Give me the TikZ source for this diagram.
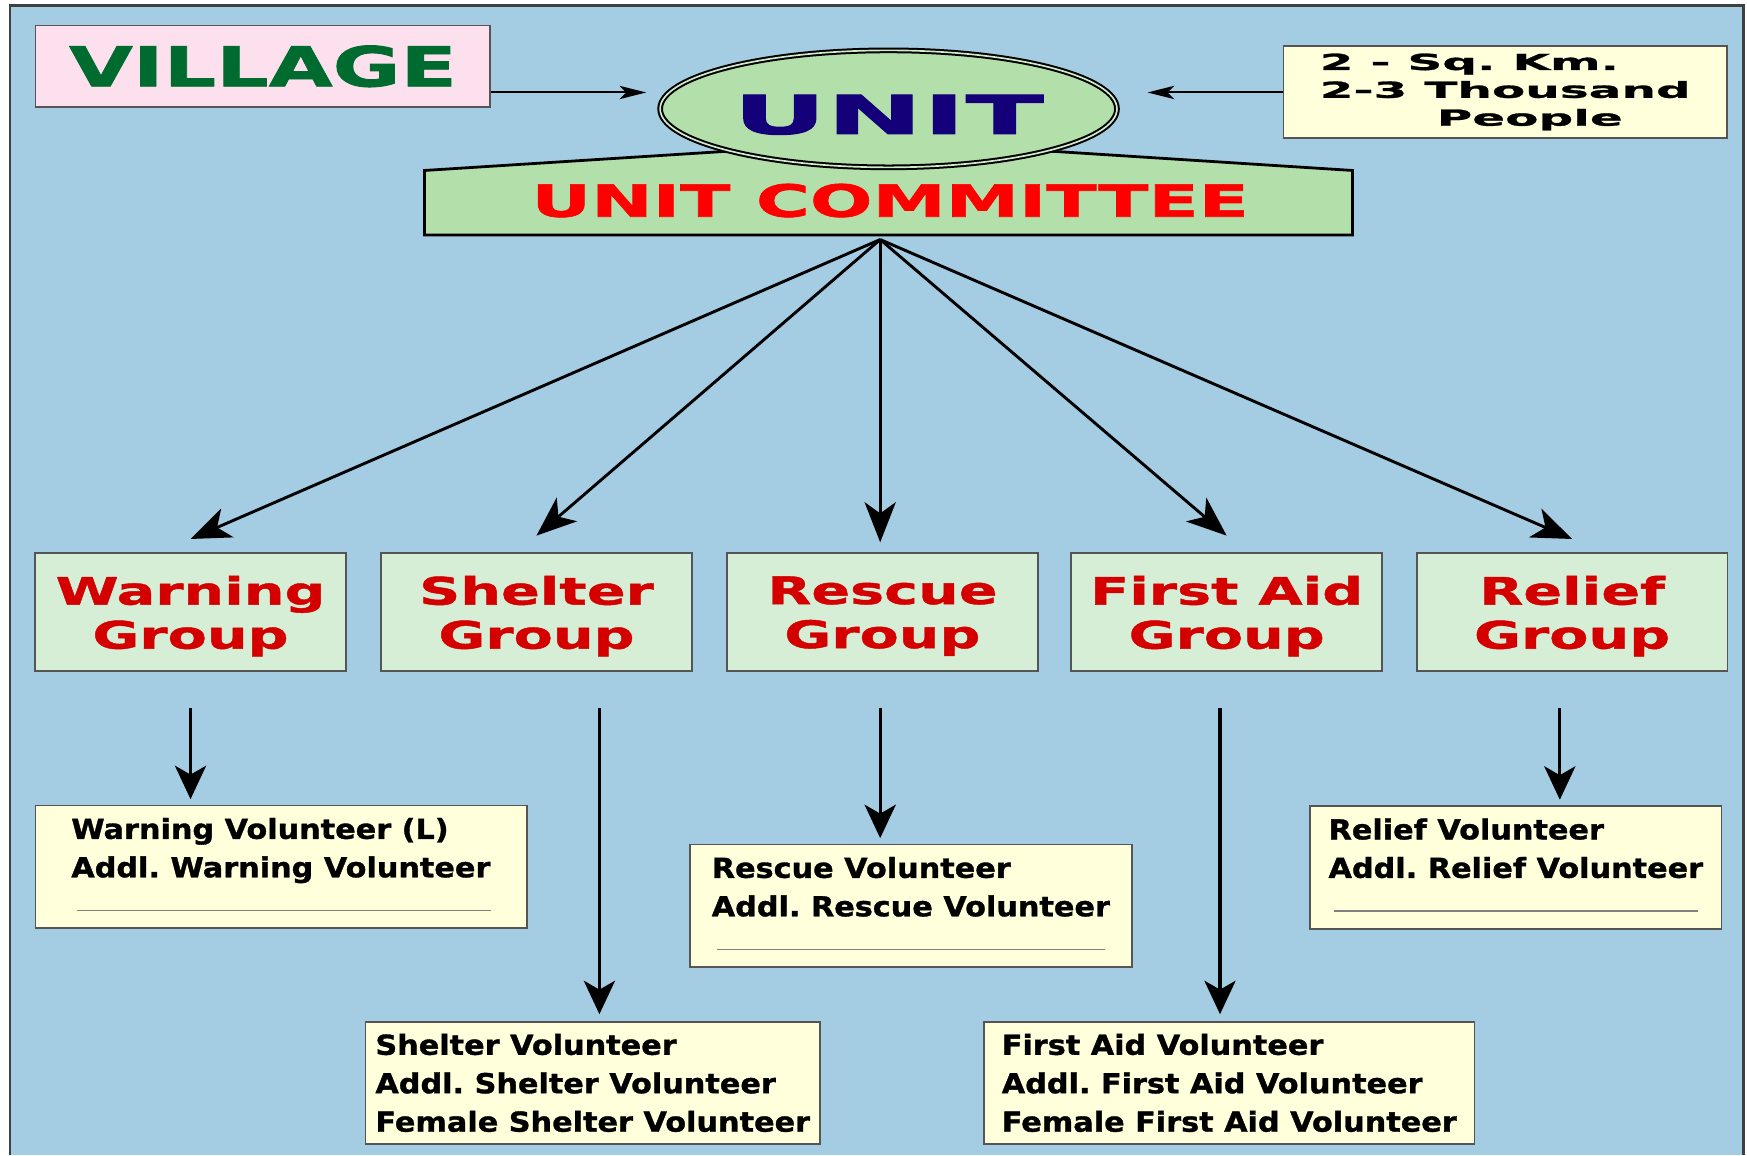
\documentclass[tikz,border=0pt]{standalone}
\usepackage{fontspec}
\usetikzlibrary{arrows.meta,shapes.geometric}
\newfontfamily\villagefont{DejaVu Sans}[FakeStretch=1.5,FakeBold=1.5]
\newfontfamily\unitfont{DejaVu Sans}[FakeStretch=2.15,FakeBold=2]
\newfontfamily\commfont{DejaVu Sans}[FakeStretch=1.66,FakeBold=1.5]
\newfontfamily\groupfont{DejaVu Sans}[FakeStretch=1.51,FakeBold=1.2]
\newfontfamily\notefont{DejaVu Sans}[FakeStretch=2.2,FakeBold=1.2]
\newfontfamily\volfont{DejaVu Sans}[FakeStretch=1.1,FakeBold=1.2]
\definecolor{bgblue}{RGB}{164,204,226}
\definecolor{villpink}{RGB}{252,224,238}
\definecolor{villgreen}{RGB}{0,107,46}
\definecolor{unitgreen}{RGB}{179,224,170}
\definecolor{unitblue}{RGB}{20,0,120}
\definecolor{commred}{RGB}{255,0,0}
\definecolor{groupfill}{RGB}{214,238,214}
\definecolor{groupred}{RGB}{212,0,0}
\definecolor{volfill}{RGB}{255,255,220}
\definecolor{boxline}{RGB}{85,85,85}
\newcommand{\blankline}[1]{\hspace*{5pt}\textcolor{gray}{\rule[4pt]{#1}{1.2pt}}}
\frenchspacing

\begin{document}
\begin{tikzpicture}[x=1pt,y=-1pt,
groupbox/.style={rectangle, draw=boxline, line width=1.5pt, fill=groupfill, minimum width=279pt, minimum height=106pt, align=center, text depth=0pt, text=groupred, font=\groupfont\bfseries\fontsize{34}{39.5}\selectfont},
volbox/.style={rectangle, draw=boxline, line width=1.5pt, fill=volfill, minimum height=110pt, align=left, font=\volfont\bfseries\fontsize{24.7}{34.5}\selectfont},
fanarrow/.style={line width=2.6pt, -{Stealth[length=36pt,width=28pt,inset=10pt]}},
downarrow/.style={line width=2.8pt, -{Stealth[length=30pt,width=28pt,inset=8pt]}},
toparrow/.style={line width=1.8pt, -{Stealth[length=24pt,width=12pt,inset=6pt]}}
]
    \useasboundingbox (0,0) rectangle (1568,1037);
    \fill[bgblue] (9,5) rectangle (1565,1037);
    \draw[line width=2.5pt, black!75] (9,1037) -- (9,5) -- (1565,5) -- (1565,1037);

    \node[rectangle, draw=boxline, line width=1.5pt, fill=villpink, minimum width=408pt, minimum height=73pt, text=villgreen, font=\villagefont\bfseries\fontsize{49.4}{50}\selectfont] (village) at (236,59.5){VILLAGE};

    \node[rectangle, draw=boxline, line width=1.5pt, fill=volfill, minimum width=398pt, minimum height=83pt, align=left, font=\notefont\bfseries\fontsize{19.8}{25}\selectfont] (note) at (1351,82.5){2 - Sq. Km.\\2-3 Thousand\\\hspace*{105pt}People};

    \filldraw[fill=unitgreen, draw=black, line width=2.5pt] (381,211) -- (381,153) -- (649,136) -- (948,136) -- (1214,153) -- (1214,211) -- cycle;
    \node[text=commred, inner sep=0pt, font=\commfont\bfseries\fontsize{39.8}{40}\selectfont] (committee) at (799,180){UNIT COMMITTEE};

    \node[ellipse, draw=black, double=unitgreen!60!white, double distance=1.5pt, line width=1.8pt, fill=unitgreen, minimum width=410pt, minimum height=105pt, inner sep=0pt, text height=45pt, text depth=0pt, text=unitblue, font=\unitfont\bfseries\fontsize{48}{48}\selectfont] (unit) at (797.5,97.7){UNIT};

    \coordinate (villtip) at (580,83);
    \coordinate (notetip) at (1030,83);
    \draw[toparrow] (village.east |- villtip) -- (villtip);
    \draw[toparrow] (note.west |- notetip) -- (notetip);

    \node[groupbox] (warning) at (171,549.5){Warning\\Group};
    \node[groupbox] (shelter) at (481.5,549.5){Shelter\\Group};
    \node[groupbox] (rescue) at (792,549.5){Rescue\\Group};
    \node[groupbox] (firstaid) at (1101,549.5){First Aid\\Group};
    \node[groupbox] (relief) at (1411,549.5){Relief\\Group};

    \coordinate (fan) at (790,215);
    \draw[fanarrow] (fan) -- ([yshift=12pt]warning.north);
    \draw[fanarrow] (fan) -- ([yshift=15pt]shelter.north);
    \draw[fanarrow] (fan) -- ([yshift=9pt]rescue.north -| fan);
    \draw[fanarrow] (fan) -- ([yshift=15pt]firstaid.north);
    \draw[fanarrow] (fan) -- ([yshift=12pt]relief.north);

    \node[volbox, minimum width=441pt] (warnvol) at (252.5,778){Warning Volunteer (L)\\Addl. Warning Volunteer\\\blankline{372pt}};
    \node[volbox, minimum width=397pt] (rescvol) at (817.5,813){Rescue Volunteer\\Addl. Rescue Volunteer\\\blankline{348pt}};
    \node[volbox, minimum width=369pt] (relvol) at (1360.5,778.5){Relief Volunteer\\Addl. Relief Volunteer\\\blankline{327pt}};
    \node[volbox, minimum width=408pt] (shelvol) at (532,972){Shelter Volunteer\\Addl. Shelter Volunteer\\Female Shelter Volunteer};
    \node[volbox, minimum width=440pt] (firstvol) at (1103.3,972){First Aid Volunteer\\Addl. First Aid Volunteer\\Female First Aid Volunteer};

    \draw[downarrow] ([yshift=-32pt]warning.south) -- ([yshift=5pt]warning.south |- warnvol.north);
    \draw[downarrow] ([xshift=6pt,yshift=-32pt]shelter.south -| shelvol.north) -- ([xshift=6pt,yshift=6pt]shelvol.north);
    \draw[downarrow] ([yshift=-32pt]rescue.south -| fan) -- ([yshift=5pt]fan |- rescvol.north);
    \draw[downarrow] ([xshift=-6pt,yshift=-32pt]firstaid.south) -- ([xshift=-6pt,yshift=6pt]firstaid.south |- firstvol.north);
    \draw[downarrow] ([xshift=-11pt,yshift=-32pt]relief.south) -- ([xshift=-11pt,yshift=5pt]relief.south |- relvol.north);
\end{tikzpicture}
\end{document}
